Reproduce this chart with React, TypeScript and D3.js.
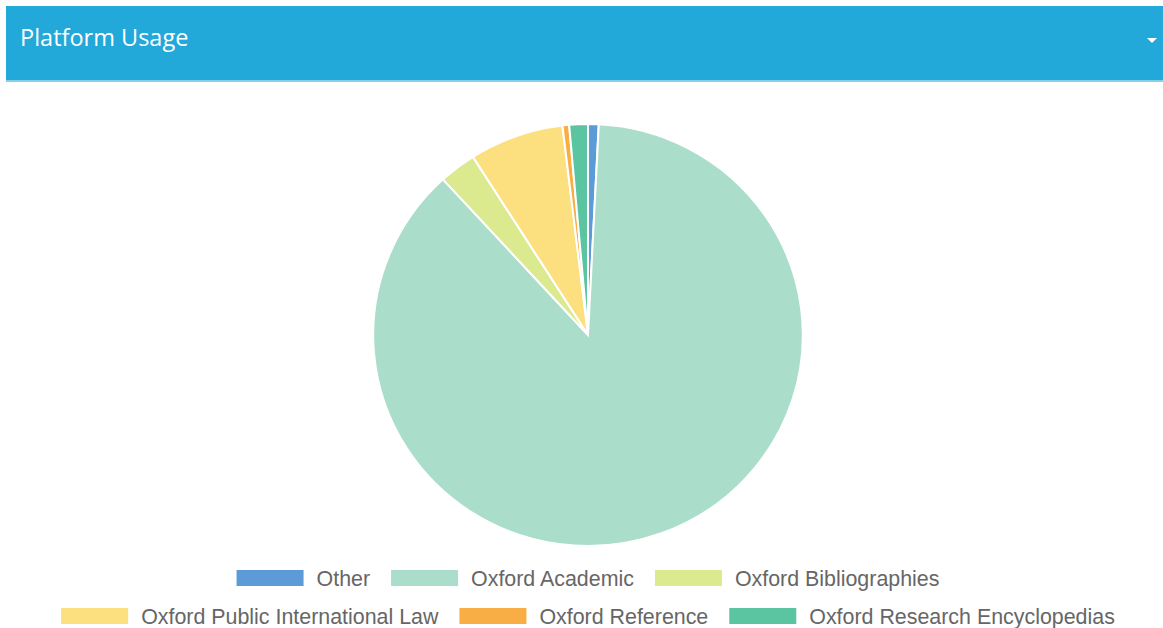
import * as d3 from "d3";
import { useEffect, useRef } from "react";

const categories = [
  "Other",
  "Oxford Academic",
  "Oxford Bibliographies",
  "Oxford Public International Law",
  "Oxford Reference",
  "Oxford Research Encyclopedias",
];
const usageShare = [0.8, 87.4, 2.8, 7.1, 0.5, 1.4];
const sliceColors = ["#5b9bd8", "#aaddca", "#dbe98f", "#fce07f", "#f9ad45", "#5bc4a0"];

const W = 1163;
const H = 628;

const App = () => {
  const svgRef = useRef<SVGSVGElement>(null);

  useEffect(() => {
    if (!svgRef.current) return;
    const svg = d3.select(svgRef.current);
    svg.selectAll("*").remove();

    // Panel header
    svg.append("rect").attr("x", 6).attr("y", 6).attr("width", W - 6).attr("height", 76).attr("fill", "#22a8d9");
    svg.append("rect").attr("x", 6).attr("y", 80).attr("width", W - 6).attr("height", 2).attr("fill", "#86cfeb");
    svg.append("text")
      .attr("x", 20)
      .attr("y", 46)
      .attr("fill", "#ffffff")
      .attr("font-family", "'Open Sans', sans-serif")
      .attr("font-size", "23.5px")
      .text("Platform Usage");
    svg.append("path")
      .attr("d", "M1147,38 L1157,38 L1152,43 Z")
      .attr("fill", "#ffffff");

    // Pie
    const cx = 588;
    const cy = 335;
    const radius = 211;
    const data = categories.map((c, i) => ({ name: c, value: usageShare[i], color: sliceColors[i] }));
    const pie = d3.pie<typeof data[0]>().value(d => d.value).sort(null);
    const arc = d3.arc<d3.PieArcDatum<typeof data[0]>>().innerRadius(0).outerRadius(radius);

    svg.append("g")
      .attr("transform", `translate(${cx},${cy}) scale(1.018,1)`)
      .selectAll("path")
      .data(pie(data))
      .join("path")
      .attr("d", arc)
      .attr("fill", d => d.data.color)
      .attr("stroke", "#ffffff")
      .attr("stroke-width", 2);

    // Legend (wrapped rows, centered)
    const fontSize = "21.4px";
    const boxW = 67;
    const boxH = 16;
    const textGap = 13;
    const itemGap = 21;
    const maxRow = 1085;
    const legend = svg.append("g");
    const measure = legend.append("text")
      .attr("font-family", "'Liberation Sans', Arial, sans-serif")
      .attr("font-size", fontSize);
    const widths = categories.map(c => {
      measure.text(c);
      return (measure.node() as SVGTextElement).getComputedTextLength();
    });
    measure.remove();

    const rows: number[][] = [[]];
    let rowW = 0;
    categories.forEach((_, i) => {
      const w = boxW + textGap + widths[i];
      const add = rows[rows.length - 1].length ? itemGap + w : w;
      if (rowW + add > maxRow && rows[rows.length - 1].length) {
        rows.push([i]);
        rowW = w;
      } else {
        rows[rows.length - 1].push(i);
        rowW += add;
      }
    });

    const rowY = [578, 616];
    rows.forEach((row, r) => {
      const total = row.reduce((s, i, k) => s + boxW + textGap + widths[i] + (k ? itemGap : 0), 0);
      let x = cx - total / 2;
      row.forEach(i => {
        legend.append("rect")
          .attr("x", x)
          .attr("y", rowY[r] - boxH / 2)
          .attr("width", boxW)
          .attr("height", boxH)
          .attr("fill", sliceColors[i]);
        legend.append("text")
          .attr("x", x + boxW + textGap)
          .attr("y", rowY[r])
          .attr("dy", "0.36em")
          .attr("fill", "#666666")
          .attr("font-family", "'Liberation Sans', Arial, sans-serif")
          .attr("font-size", fontSize)
          .text(categories[i]);
        x += boxW + textGap + widths[i] + itemGap;
      });
    });
  }, []);

  return (
    <div style={{ position: "absolute", left: 0, top: 0, width: W, height: H, background: "#ffffff" }}>
      <svg ref={svgRef} width={W} height={H} />
    </div>
  );
};

export default App;
